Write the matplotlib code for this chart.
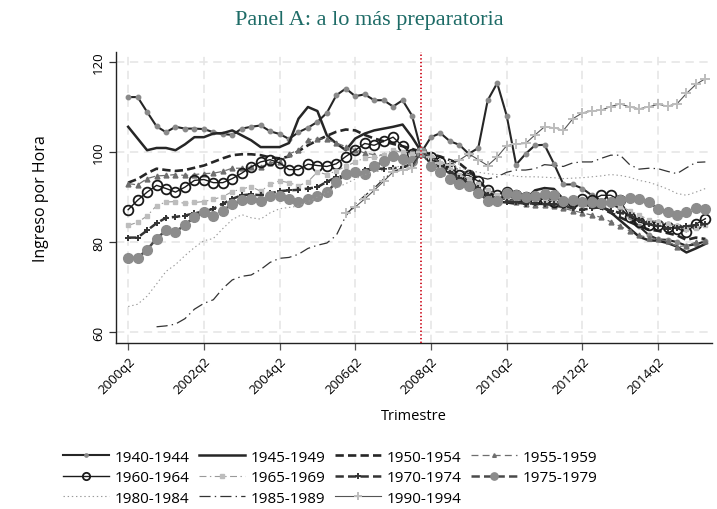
import matplotlib
matplotlib.use("Agg")
import matplotlib.pyplot as plt
import numpy as np

plt.rcParams["font.family"] = ["Open Sans", "DejaVu Sans"]
plt.rcParams["lines.scale_dashes"] = False

nan = np.nan

# quarterly index, 2000q2 .. 2015q3 (base = 2008q1)
quarters = np.arange(62)
base_q = 31
tick_pos = [0, 8, 16, 24, 32, 40, 48, 56]
tick_labels = ["2000q2", "2002q2", "2004q2", "2006q2",
               "2008q2", "2010q2", "2012q2", "2014q2"]

c1940 = [112.2, 112.2, 108.9, 105.7, 104.4, 105.6, 105.2, 105.2, 105.1, 104.4, 104.0, 103.8, 105.2, 105.6, 105.9, 104.6,
         104.0, 102.9, 104.4, 105.4, 106.7, 108.7, 112.6, 114.1, 112.4, 112.8, 111.5, 111.5, 110.1, 111.5, 108.1, 100.0,
         103.3, 104.2, 102.4, 101.6, 99.6, 100.9, 111.5, 115.3, 108.1, 97.2, 99.6, 101.5, 101.6, 97.4, 92.8, 92.8,
         91.9, 90.4, 89.0, 88.5, 87.5, 85.5, 83.5, 81.6, 80.6, 80.5, 80.0, 79.2, 79.5, 80.2]
c1945 = [105.6, 103.0, 100.4, 100.9, 100.9, 100.4, 101.7, 103.3, 103.3, 104.1, 104.2, 104.8, 103.7, 102.6, 101.1, 101.1,
         101.1, 102.0, 107.4, 110.0, 109.1, 103.7, 101.9, 100.4, 103.0, 104.1, 104.8, 105.2, 105.6, 106.1, 103.3, 100.0,
         99.0, 97.5, 96.0, 94.5, 93.0, 91.5, 90.0, 89.0, 88.8, 88.5, 89.5, 91.5, 92.0, 91.8, 89.5, 89.0,
         88.8, 88.5, 88.0, 86.6, 84.8, 83.0, 81.2, 80.4, 80.3, 79.8, 79.0, 77.7, 78.6, 79.6]
c1950 = [93.2, 94.0, 95.3, 96.3, 96.0, 95.8, 96.0, 96.5, 97.0, 97.8, 98.6, 99.3, 99.5, 99.5, 99.3, 98.8,
         98.6, 99.0, 100.2, 101.5, 102.6, 103.6, 104.5, 105.0, 104.8, 103.8, 103.0, 102.4, 101.8, 101.3, 100.7, 100.0,
         99.5, 99.0, 98.2, 97.5, 95.8, 93.8, 91.5, 90.0, 89.5, 89.0, 88.8, 88.5, 88.5, 88.3, 88.0, 88.2,
         88.4, 88.0, 87.5, 86.5, 85.5, 84.5, 83.5, 82.8, 82.5, 82.0, 81.5, 80.5, 81.0, 80.7]
c1955 = [93.0, 92.7, 94.1, 94.7, 94.8, 95.0, 94.8, 95.0, 95.2, 95.3, 95.7, 96.4, 96.4, 96.7, 96.7, 97.6,
         97.8, 99.6, 100.4, 102.7, 103.0, 102.8, 102.0, 101.2, 100.5, 99.8, 99.4, 99.3, 99.5, 99.8, 100.0, 100.0,
         98.5, 96.5, 95.0, 93.5, 92.5, 91.5, 90.5, 90.0, 89.5, 89.0, 88.5, 88.3, 88.2, 88.0, 87.5, 87.0,
         86.5, 86.0, 85.5, 84.5, 83.5, 82.5, 81.5, 81.0, 80.7, 80.2, 79.0, 79.2, 80.0, 80.3]
c1960 = [87.2, 89.3, 91.1, 92.6, 91.9, 91.1, 92.2, 93.7, 93.9, 93.2, 93.2, 94.1, 95.3, 96.7, 97.8, 98.3,
         97.6, 96.1, 96.1, 97.3, 97.0, 96.8, 97.4, 99.0, 100.4, 101.9, 101.5, 102.4, 103.3, 101.3, 99.6, 100.0,
         99.0, 97.8, 96.5, 95.0, 94.8, 93.5, 91.5, 90.5, 91.2, 90.5, 90.0, 89.5, 89.5, 89.0, 88.8, 89.0,
         89.5, 89.3, 90.4, 90.4, 89.3, 85.6, 84.5, 83.8, 83.7, 83.3, 83.0, 82.3, 84.0, 85.2]
c1965 = [83.7, 84.4, 85.8, 88.1, 88.9, 89.0, 88.6, 88.8, 89.0, 89.5, 90.1, 91.2, 91.8, 92.3, 91.3, 92.8,
         93.6, 93.2, 92.5, 93.4, 95.6, 95.0, 95.8, 96.8, 97.8, 98.7, 98.9, 99.4, 100.4, 99.9, 99.6, 100.0,
         99.0, 97.5, 96.0, 95.0, 94.0, 92.8, 91.5, 90.5, 90.0, 89.8, 89.6, 89.5, 89.4, 89.2, 89.0, 89.0,
         88.8, 88.7, 88.6, 88.5, 88.0, 87.0, 86.0, 85.0, 84.5, 84.0, 83.5, 82.8, 83.2, 83.8]
c1970 = [81.0, 81.0, 82.6, 84.2, 85.4, 85.6, 85.9, 86.4, 86.8, 87.4, 88.5, 89.6, 90.4, 90.6, 90.4, 90.8,
         91.3, 91.5, 91.6, 91.9, 92.2, 93.4, 94.4, 94.8, 95.8, 96.1, 96.3, 96.3, 96.4, 96.6, 97.4, 100.0,
         98.0, 96.8, 95.5, 94.2, 93.0, 92.0, 90.5, 89.5, 89.0, 88.8, 88.5, 88.6, 88.4, 88.5, 88.0, 87.5,
         87.2, 87.5, 87.8, 87.0, 86.5, 86.0, 85.0, 84.0, 83.5, 83.0, 83.2, 83.5, 83.8, 84.0]
c1975 = [76.5, 76.5, 78.3, 80.8, 82.6, 82.2, 83.9, 85.5, 86.6, 85.9, 87.0, 88.4, 89.4, 89.6, 89.2, 90.2,
         90.2, 89.6, 88.9, 89.5, 90.2, 91.1, 93.3, 95.2, 95.6, 95.2, 96.8, 98.0, 99.2, 98.4, 98.1, 100.0,
         97.0, 95.5, 94.0, 92.8, 92.5, 91.0, 89.2, 89.2, 91.0, 90.4, 90.1, 90.3, 90.7, 90.4, 89.2, 89.3,
         89.0, 88.8, 88.6, 89.0, 89.4, 89.8, 89.5, 89.0, 87.3, 86.7, 86.1, 86.7, 87.5, 87.4]
c1980 = [65.7, 66.2, 68.0, 70.7, 73.5, 75.0, 77.0, 78.8, 80.3, 80.8, 83.0, 85.0, 86.1, 85.4, 85.1, 86.5,
         87.4, 87.7, 88.0, 89.0, 90.0, 91.0, 92.0, 93.0, 94.0, 95.0, 95.5, 96.0, 96.5, 97.0, 97.5, 100.0,
         98.8, 97.8, 97.0, 96.5, 96.0, 95.5, 95.2, 95.0, 95.0, 94.6, 94.5, 94.5, 94.4, 94.3, 94.1, 94.2,
         94.3, 94.5, 94.7, 95.0, 94.8, 94.4, 93.7, 93.3, 92.6, 91.8, 90.8, 90.4, 91.1, 91.9]
c1985 = [nan, nan, nan, 61.2, 61.4, 61.8, 63.0, 65.1, 66.4, 67.2, 69.7, 71.6, 72.4, 72.7, 73.9, 75.5,
         76.4, 76.6, 77.3, 78.6, 79.3, 79.8, 81.5, 85.8, 88.5, 90.3, 92.0, 94.0, 95.6, 96.5, 97.0, 100.0,
         98.5, 97.8, 97.0, 96.0, 95.2, 94.5, 94.0, 94.5, 95.5, 96.0, 96.0, 96.3, 97.2, 97.0, 96.8, 97.6,
         97.8, 97.8, 98.6, 99.3, 99.3, 97.2, 96.2, 96.4, 96.3, 95.7, 95.2, 96.5, 97.7, 97.8]
c1990 = [nan] * 23 + [86.4, 87.8, 89.6, 91.5, 93.5, 95.6, 96.0, 96.4, 100.0,
         99.0, 97.5, 97.2, 98.2, 99.6, 98.3, 97.0, 98.9, 101.4, 101.8, 101.9, 103.8, 105.6, 105.4, 104.8, 107.4,
         108.7, 109.1, 109.3, 110.1, 110.7, 110.0, 109.6, 110.0, 110.6, 110.2, 110.7, 113.0, 115.0, 116.3]

cohorts = ["1940-1944", "1945-1949", "1950-1954", "1955-1959", "1960-1964", "1965-1969",
           "1970-1974", "1975-1979", "1980-1984", "1985-1989", "1990-1994"]
values = [c1940, c1945, c1950, c1955, c1960, c1965, c1970, c1975, c1980, c1985, c1990]

styles = [
    dict(color="#262626", lw=1.5, marker="o", ms=3.2, mfc="#8a8a8a", mec="#8a8a8a"),
    dict(color="#262626", lw=1.8),
    dict(color="#262626", lw=1.9, dashes=(6, 3)),
    dict(color="#6e6e6e", lw=0.9, dashes=(5, 3), marker="^", ms=3.5, mfc="#6e6e6e", mec="#6e6e6e"),
    dict(color="#1a1a1a", lw=1.0, marker="o", ms=7, mfc="none", mec="#1a1a1a", mew=1.3),
    dict(color="#9a9a9a", lw=0.8, dashes=(5, 2.5, 1, 2.5), marker="s", ms=3.5, mfc="#bdbdbd", mec="#bdbdbd"),
    dict(color="#333333", lw=1.8, dashes=(6, 3), marker="+", ms=5, mec="#333333", mew=1.4),
    dict(color="#4a4a4a", lw=1.8, dashes=(6, 3), marker="o", ms=7, mfc="#8c8c8c", mec="#8c8c8c"),
    dict(color="#9a9a9a", lw=0.8, dashes=(1, 2)),
    dict(color="#333333", lw=0.9, dashes=(8, 3, 1, 3)),
    dict(color="#555555", lw=0.8, marker="+", ms=7, mec="#bdbdbd", mew=1.4),
]

fig = plt.figure(figsize=(7.17, 5.10), dpi=100)
ax = fig.add_axes([0.162, 0.3255, 0.831, 0.5705])

lines = []
for label, vals, st in zip(cohorts, values, styles):
    ln, = ax.plot(quarters, np.array(vals, dtype=float), label=label, **st)
    lines.append(ln)

ax.axvline(base_q, color="#d0202e", lw=1.4, ls=":", zorder=5)

ax.set_xlim(-1.27, 61.7)
ax.set_ylim(57.6, 122.2)
ax.set_yticks([60, 80, 100, 120])
ax.set_xticks(tick_pos)
ax.set_xticklabels(tick_labels, rotation=45, ha="right", rotation_mode="anchor")
for t in ax.get_yticklabels():
    t.set_rotation(90)
    t.set_va("center")
ax.tick_params(axis="y", length=5, width=0.9, color="#333333", labelsize=9.5, pad=3)
ax.tick_params(axis="x", length=5, width=0.9, color="#555555", labelsize=9.5, pad=3)

ax.grid(True, color="#e6e6e6", lw=1.2, dashes=(6, 4))
ax.set_axisbelow(True)
for side in ("top", "right"):
    ax.spines[side].set_visible(False)
for side in ("left", "bottom"):
    ax.spines[side].set_color("#222222")
    ax.spines[side].set_linewidth(1.0)

ax.set_ylabel("Ingreso por Hora", fontsize=11.5)
ax.yaxis.set_label_coords(-0.112, 0.5)
ax.set_xlabel("Trimestre", fontsize=10.5)
ax.xaxis.set_label_coords(0.5, -0.222)

fig.text(0.515, 0.96, "Panel A: a lo más preparatoria", ha="center", va="center",
         fontsize=16, color="#1d6b66", family="Liberation Serif")

# legend reads row by row, four entries per row
order = [0, 4, 8, 1, 5, 9, 2, 6, 10, 3, 7]
fig.legend([lines[k] for k in order], [cohorts[k] for k in order],
           loc="upper left", bbox_to_anchor=(0.088, 0.116), ncol=4, frameon=False,
           fontsize=11, handlelength=3.0, handletextpad=0.4, columnspacing=0.6,
           labelspacing=0.35, borderpad=0, borderaxespad=0, numpoints=1, markerscale=0.75)

fig.savefig("out.png", dpi=100)
